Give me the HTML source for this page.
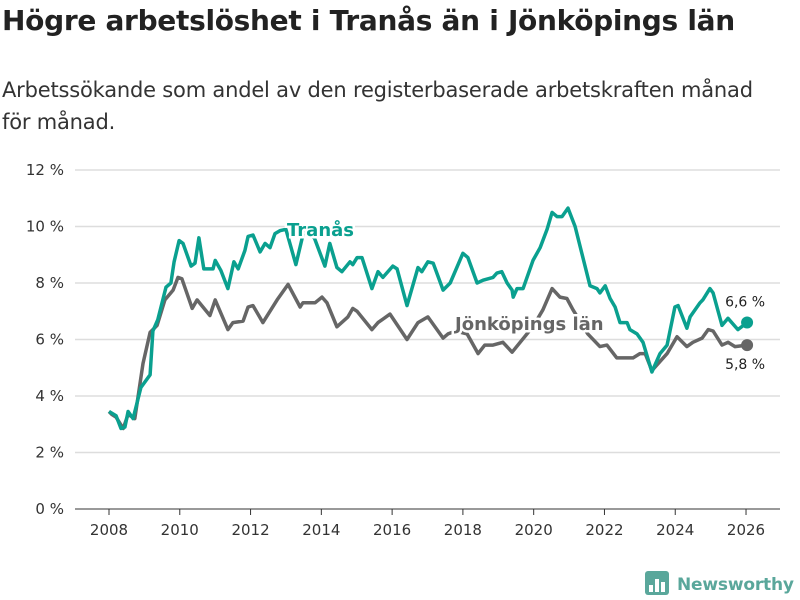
<!DOCTYPE html>
<html><head><meta charset="utf-8">
<style>
body{margin:0;background:#fff;width:800px;height:600px;overflow:hidden;font-family:"DejaVu Sans","Liberation Sans",sans-serif;}
h1{position:absolute;left:2px;top:4px;margin:0;font-size:28px;font-weight:bold;color:#222;letter-spacing:-0.3px;white-space:nowrap}
p{position:absolute;left:2px;top:74px;margin:0;font-size:21px;line-height:32px;color:#333;width:770px;letter-spacing:-0.2px}
svg{position:absolute;left:0;top:0}
</style></head><body>
<h1>Högre arbetslöshet i Tranås än i Jönköpings län</h1>
<p>Arbetssökande som andel av den registerbaserade arbetskraften månad för månad.</p>
<svg id="c" width="800" height="600"></svg>
<script>
const tranasYears=[0,.2,.34,.45,.54,.68,.9,1.16,1.24,1.38,1.61,1.75,1.84,1.98,2.09,2.32,2.43,2.54,2.68,2.94,3.0,3.16,3.36,3.53,3.65,3.84,3.93,4.07,4.27,4.41,4.55,4.69,4.83,5.0,5.28,5.5,5.8,6.1,6.24,6.44,6.58,6.81,6.89,7.01,7.15,7.43,7.6,7.74,8.02,8.14,8.42,8.73,8.84,9.01,9.16,9.44,9.64,10.0,10.14,10.4,10.57,10.85,10.96,11.1,11.25,11.39,11.42,11.53,11.7,11.98,12.18,12.38,12.52,12.66,12.8,12.97,13.17,13.59,13.79,13.87,14.02,14.16,14.3,14.44,14.64,14.72,14.92,15.09,15.34,15.57,15.77,15.99,16.08,16.33,16.42,16.7,16.78,16.98,17.07,17.32,17.49,17.77,18.03];
const tranasValues=[3.45,3.3,2.85,2.9,3.45,3.2,4.3,4.75,6.3,6.7,7.85,8.0,8.75,9.5,9.4,8.6,8.7,9.6,8.5,8.5,8.8,8.45,7.8,8.75,8.5,9.15,9.65,9.7,9.1,9.4,9.25,9.75,9.85,9.9,8.65,9.8,9.6,8.6,9.4,8.55,8.4,8.75,8.65,8.9,8.9,7.8,8.4,8.2,8.6,8.5,7.2,8.55,8.4,8.75,8.7,7.75,8.0,9.05,8.9,8.0,8.1,8.2,8.35,8.4,8.0,7.75,7.5,7.8,7.8,8.8,9.25,9.9,10.5,10.35,10.35,10.65,10.0,7.9,7.8,7.65,7.9,7.45,7.15,6.6,6.6,6.35,6.2,5.9,4.85,5.5,5.8,7.15,7.2,6.4,6.8,7.3,7.4,7.8,7.65,6.5,6.75,6.35,6.6];
const jkpYears=[0,.08,.2,.4,.54,.73,.96,1.16,1.36,1.58,1.81,1.95,2.06,2.35,2.49,2.85,3.0,3.36,3.5,3.79,3.93,4.07,4.35,4.75,5.06,5.4,5.48,5.82,6.02,6.16,6.44,6.75,6.89,7.01,7.43,7.6,7.94,8.42,8.73,9.01,9.44,9.58,9.8,10.12,10.43,10.62,10.85,11.13,11.39,11.81,12.0,12.26,12.52,12.74,12.94,13.11,13.53,13.87,14.07,14.35,14.81,15.0,15.15,15.34,15.77,16.05,16.33,16.5,16.76,16.93,17.07,17.32,17.49,17.69,18.03];
const jkpValues=[3.45,3.35,3.25,2.85,3.35,3.2,5.15,6.25,6.5,7.4,7.75,8.2,8.15,7.1,7.4,6.85,7.4,6.35,6.6,6.65,7.15,7.2,6.6,7.4,7.95,7.15,7.3,7.3,7.5,7.3,6.45,6.8,7.1,7.0,6.35,6.6,6.9,6.0,6.6,6.8,6.05,6.2,6.3,6.2,5.5,5.8,5.8,5.9,5.55,6.2,6.5,7.05,7.8,7.5,7.45,7.05,6.2,5.75,5.8,5.35,5.35,5.5,5.5,4.9,5.5,6.1,5.75,5.9,6.05,6.35,6.3,5.8,5.9,5.75,5.8];
const yTicks=[0,2,4,6,8,10,12];
const xTicks=[2008,2010,2012,2014,2016,2018,2020,2022,2024,2026];
const NS='http://www.w3.org/2000/svg';
const svg=document.getElementById('c');
const X=y=>109+(y-2008)*35.39;
const Y=v=>509-v*28.25;
function el(t,a,txt){const e=document.createElementNS(NS,t);for(const k in a)e.setAttribute(k,a[k]);if(txt!=null)e.textContent=txt;svg.appendChild(e);return e;}
yTicks.forEach(v=>{
 const l=el('line',{x1:75,x2:780,y1:Y(v),y2:Y(v),stroke:v===0?'#333':'#ddd','stroke-width':v===0?1:1.5});
 
 
 const t=el('text',{x:64,y:Y(v)+5,'text-anchor':'end','font-size':15,fill:'#333'},v+' %');
 
 
});
xTicks.forEach(yr=>{
 const l=el('line',{x1:X(yr),x2:X(yr),y1:509,y2:515,stroke:'#333'});
 
 
 const t=el('text',{x:X(yr),y:535,'text-anchor':'middle','font-size':15,fill:'#333'},yr);
 
 
});
function line(ys,vs,col,name){
 const d=ys.map((y,i)=>(i?'L':'M')+X(2008+y).toFixed(1)+','+Y(vs[i]).toFixed(1)).join('');
 const p=el('path',{d:d,fill:'none',stroke:col,'stroke-width':3.5,'stroke-linejoin':'round'});
 
 
 const n=ys.length-1;
 const c=el('circle',{cx:X(2008+ys[n]),cy:Y(vs[n]),r:6,fill:col});
 
 
 return [X(2008+ys[n]),Y(vs[n])];
}
const pj=line(jkpYears,jkpValues,'#666','jonkoping');
const pt=line(tranasYears,tranasValues,'#0aa08f','tranas');
const halo={stroke:'#fff','stroke-width':5,'paint-order':'stroke','font-weight':'bold','font-size':18};
const lt=el('text',Object.assign({x:287,y:236,fill:'#0aa08f'},halo),'Tranås');


const lj=el('text',Object.assign({x:455,y:330,fill:'#666'},halo),'Jönköpings län');


const vt=el('text',{x:pt[0]-2,y:pt[1]-16,'text-anchor':'middle','font-size':14,fill:'#222',stroke:'#fff','stroke-width':4,'paint-order':'stroke'},'6,6 %');


const vj=el('text',{x:pj[0]-2,y:pj[1]+24,'text-anchor':'middle','font-size':14,fill:'#222',stroke:'#fff','stroke-width':4,'paint-order':'stroke'},'5,8 %');


const g=el('g',{});


const r=document.createElementNS(NS,'rect');
[['x',645],['y',571],['width',24],['height',24],['rx',3],['fill','#5aa79b']].forEach(a=>r.setAttribute(a[0],a[1]));g.appendChild(r);
[[649,585,4],[655,579,4],[661,582,4]].forEach(b=>{const q=document.createElementNS(NS,'rect');q.setAttribute('x',b[0]);q.setAttribute('y',b[1]);q.setAttribute('width',b[2]);q.setAttribute('height',592-b[1]);q.setAttribute('fill','#fff');g.appendChild(q);});
const lg=document.createElementNS(NS,'text');lg.setAttribute('x',677);lg.setAttribute('y',590);lg.setAttribute('font-size',17);lg.setAttribute('font-weight','bold');lg.setAttribute('fill','#5aa79b');lg.setAttribute('textLength',117);lg.textContent='Newsworthy';g.appendChild(lg);
</script>
</body></html>
